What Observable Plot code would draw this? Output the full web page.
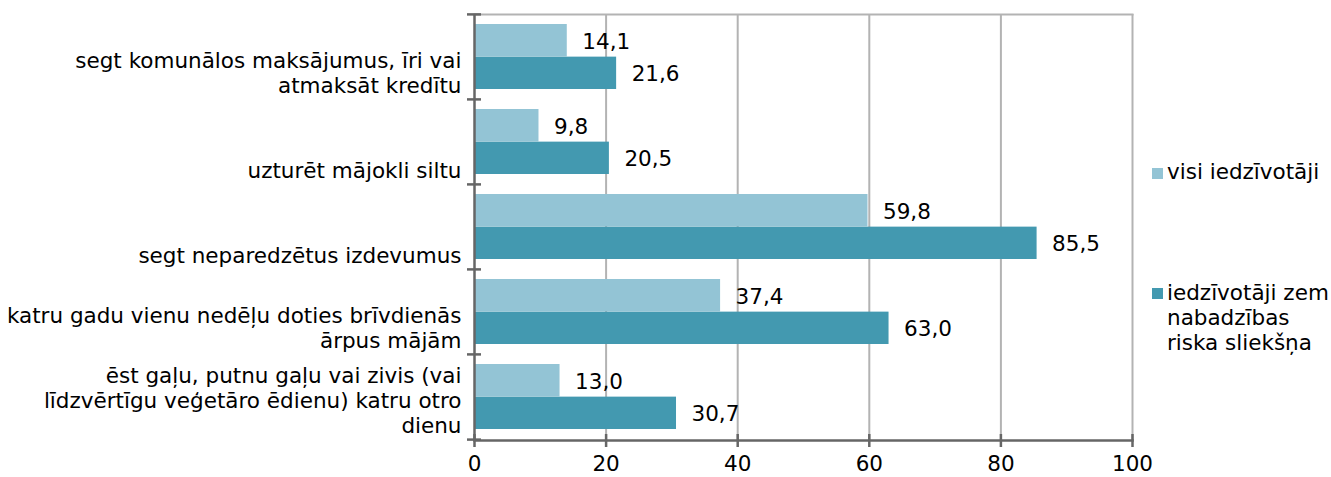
<!DOCTYPE html>
<html><head><meta charset="utf-8">
<script src="https://cdn.jsdelivr.net/npm/d3@7"></script>
<script src="https://cdn.jsdelivr.net/npm/@observablehq/plot@0.6"></script>
<style>
body{margin:0;background:#fff;}
#wrap{position:relative;width:1331px;height:477px;font-family:"DejaVu Sans",Verdana,sans-serif;}
.leg{position:absolute;font-size:21.5px;line-height:25px;color:#000;white-space:pre;}
.sw{position:absolute;width:11px;height:11px;}
</style></head><body><div id="wrap"></div>
<script>
const categories = [
  "segt komunālos maksājumus, īri vai\natmaksāt kredītu",
  "uzturēt mājokli siltu",
  "segt neparedzētus izdevumus",
  "katru gadu vienu nedēļu doties brīvdienās\nārpus mājām",
  "ēst gaļu, putnu gaļu vai zivis (vai\nlīdzvērtīgu veģetāro ēdienu) katru otro\ndienu"
];
const seriesNames = ["visi iedzīvotāji", "iedzīvotāji zem\nnabadzības\nriska sliekšņa"];
const valuesAll = [14.1, 9.8, 59.8, 37.4, 13.0];
const valuesPoverty = [21.6, 20.5, 85.5, 63.0, 30.7];
const xTicks = [0, 20, 40, 60, 80, 100];
const colors = ["#93C4D5", "#4399B0"];

const W = 1331, H = 477, ml = 474, mr = 199, mt = 14, mb = 37;
const plotW = W - ml - mr, plotH = H - mt - mb;
const step = plotH / categories.length;
const pInner = 0.234, pOuter = pInner / 2;
const bw = step * (1 - pInner);
const half = bw / 2;
const fs = 21.5;
const axisColor = "#666666", gridColor = "#B3B3B3";
const fmt = d => d.toFixed(1).replace(".", ",");

const rowsAll = categories.map((c, i) => ({cat: c, v: valuesAll[i]}));
const rowsPov = categories.map((c, i) => ({cat: c, v: valuesPoverty[i]}));

const chart = Plot.plot({
  width: W, height: H,
  marginLeft: ml, marginRight: mr, marginTop: mt, marginBottom: mb,
  style: {fontFamily: '"DejaVu Sans", Verdana, sans-serif', fontSize: fs + "px", color: "#000", background: "#fff"},
  x: {domain: [0, 100]},
  y: {domain: categories, type: "band", paddingInner: pInner, paddingOuter: pOuter, axis: null},
  marks: [
    Plot.gridX(xTicks.slice(1), {stroke: gridColor, strokeOpacity: 1, strokeWidth: 2}),
    Plot.frame({anchor: "top", stroke: gridColor, strokeWidth: 2}),
    Plot.barX(rowsAll, {x: "v", y: "cat", fill: colors[0], insetBottom: half}),
    Plot.barX(rowsPov, {x: "v", y: "cat", fill: colors[1], insetTop: half}),
    Plot.text(rowsAll, {x: "v", y: "cat", text: d => fmt(d.v), textAnchor: "start", dx: 15, dy: -bw / 4 + 1, fill: "#000"}),
    Plot.text(rowsPov, {x: "v", y: "cat", text: d => fmt(d.v), textAnchor: "start", dx: 15, dy: bw / 4 + 1, fill: "#000"}),
    Plot.text(categories, {x: 0, y: d => d, text: d => d, textAnchor: "end", lineAnchor: "bottom", lineHeight: 25 / fs, dx: -13, dy: step / 2 - 7, fill: "#000"}),
    Plot.ruleX([0], {stroke: axisColor, strokeWidth: 2.5}),
    Plot.frame({anchor: "bottom", stroke: axisColor, strokeWidth: 2.5}),
    Plot.tickY(categories, {y: d => d, dy: -step / 2, stroke: axisColor, strokeWidth: 2.5, insetLeft: -7, insetRight: plotW - 7}),
    Plot.tickY(categories.slice(-1), {y: d => d, dy: step / 2, stroke: axisColor, strokeWidth: 2.5, insetLeft: -7, insetRight: plotW - 7}),
    Plot.tickX(xTicks, {x: d => d, stroke: axisColor, strokeWidth: 2.5, insetTop: plotH - 6, insetBottom: -7}),
    Plot.axisX(xTicks, {tickSize: 0, tickPadding: 15, tickFormat: d => String(d), label: null, fill: "#000"})
  ]
});
const wrap = document.getElementById("wrap");
wrap.appendChild(chart);

const legPos = [{sw: 168, txt: 159}, {sw: 288, txt: 280}];
seriesNames.forEach((name, i) => {
  const s = document.createElement("div");
  s.className = "sw";
  s.style.left = "1152px"; s.style.top = legPos[i].sw + "px"; s.style.background = colors[i];
  wrap.appendChild(s);
  const t = document.createElement("div");
  t.className = "leg";
  t.style.left = "1167px"; t.style.top = legPos[i].txt + "px";
  t.textContent = name;
  wrap.appendChild(t);
});
</script></body></html>
